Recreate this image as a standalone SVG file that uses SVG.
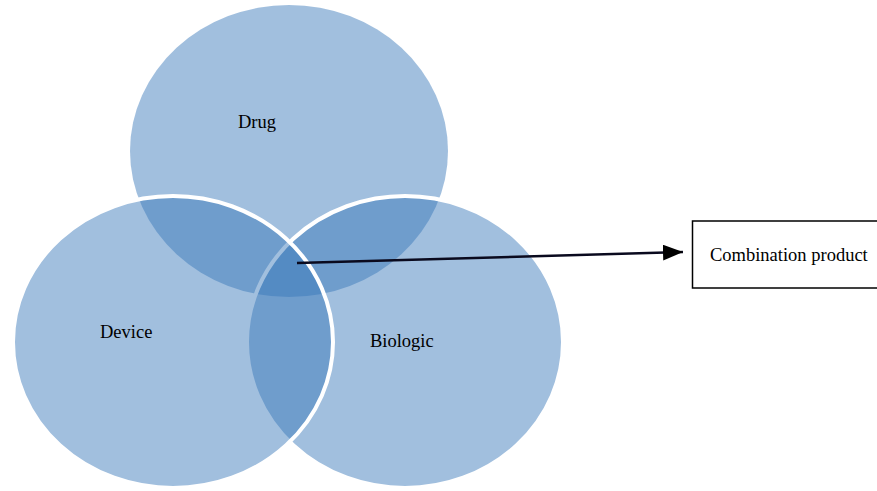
<svg xmlns="http://www.w3.org/2000/svg" width="877" height="491" viewBox="0 0 877 491">
  <style>
    .set { fill: #3776b9; fill-opacity: 0.47; }
    .outlined { stroke: #ffffff; stroke-width: 4; }
    .label { font-family: "Liberation Serif", "Times New Roman", serif; font-size: 18.5px; fill: #000000; }
    .box { fill: #ffffff; stroke: #000000; stroke-width: 1.5; }
    .conn { stroke: #0a0a1e; stroke-width: 2.5; fill: none; }
  </style>
  <defs>
    <marker id="arrow" viewBox="0 0 20 16" refX="20" refY="8" markerWidth="20" markerHeight="16" markerUnits="userSpaceOnUse" orient="auto">
      <path d="M0,0 L20,8 L0,16 Z" fill="#000000"/>
    </marker>
  </defs>
  <rect width="877" height="491" fill="#ffffff"/>
  <g id="drug">
    <ellipse class="set" cx="289" cy="151" rx="159" ry="146"/>
  </g>
  <g id="biologic">
    <ellipse class="set outlined" cx="405" cy="342" rx="158" ry="146"/>
  </g>
  <g id="device">
    <ellipse class="set outlined" cx="173" cy="342" rx="160" ry="146"/>
  </g>
  <g id="labels">
    <text class="label" x="238" y="128">Drug</text>
    <text class="label" x="100" y="338">Device</text>
    <text class="label" x="370" y="347">Biologic</text>
  </g>
  <g id="combination-product">
    <rect class="box" x="692.5" y="221" width="190" height="67"/>
    <text class="label" x="710" y="261">Combination product</text>
  </g>
  <g id="connectors">
    <line class="conn" x1="297" y1="263" x2="683" y2="252" marker-end="url(#arrow)"/>
  </g>
</svg>
